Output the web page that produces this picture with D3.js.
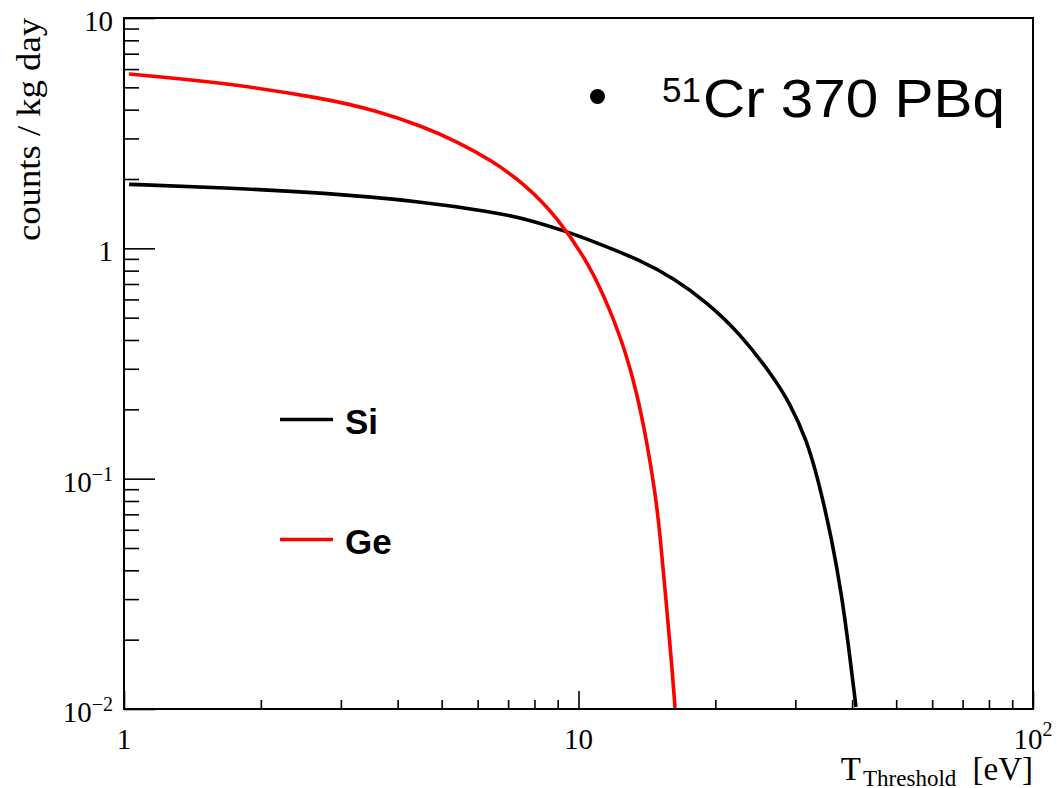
<!DOCTYPE html>
<html>
<head>
<meta charset="utf-8">
<script src="https://cdn.jsdelivr.net/npm/d3@7"></script>
<style>
  body { margin: 0; background: #fff; }
  svg { display: block; }
</style>
</head>
<body>
<svg id="chart" width="1057" height="788"></svg>
<script>
// ---- data ----
const siX = [1.026, 1.660, 2.754, 4.572, 6.410, 7.588, 9.449, 10.82, 13.65, 16.17, 19.15, 22.66, 26.83, 29.19, 31.78, 33.70, 36.13, 38.00, 39.30, 40.79];
const siY = [1.896, 1.833, 1.743, 1.593, 1.442, 1.350, 1.181, 1.068, 0.890, 0.743, 0.584, 0.4276, 0.277, 0.2123, 0.147, 0.0986, 0.0541, 0.0306, 0.0186, 0.0102];
const geX = [1.026, 1.660, 2.754, 3.549, 4.572, 5.412, 6.410, 7.588, 8.983, 10.64, 11.73, 12.66, 13.45, 14.15, 14.72, 15.11, 15.58, 16.06, 16.31];
const geY = [5.71, 5.24, 4.48, 3.99, 3.37, 2.90, 2.42, 1.915, 1.371, 0.832, 0.54, 0.362, 0.235, 0.143, 0.089, 0.058, 0.0297, 0.0152, 0.0101];
const seriesNames = ["Si", "Ge"];
const seriesColors = ["#000000", "#ff0000"];
const xMajorTicks = [1, 10, 100];
const xTickLabels = [["1", ""], ["10", ""], ["10", "2"]];
const yMajorTicks = [0.01, 0.1, 1, 10];
const yTickLabels = [["10", "\u22122"], ["10", "\u22121"], ["1", ""], ["10", ""]];
const xTitle = ["T", "Threshold", " [eV]"];
const yTitle = "counts / kg day";
const annotation = ["51", "Cr 370 PBq"];

// ---- layout ----
const L = 124, R = 1033, T = 18, B = 709;
const svg = d3.select("#chart");
svg.append("rect").attr("width", 1057).attr("height", 788).attr("fill", "#fff");

const x = d3.scaleLog().domain([1, 100]).range([L, R]);
const y = d3.scaleLog().domain([0.01, 10]).range([B, T]);

function minors(lo, hi) {
  const out = [];
  for (let d = lo; d < hi; d *= 10)
    for (let k = 2; k <= 9; k++) out.push(d * k);
  return out;
}

// clip
svg.append("defs").append("clipPath").attr("id", "clip")
  .append("rect").attr("x", L).attr("y", T).attr("width", R - L).attr("height", B - T);

// curves
const line = d3.line().x(d => x(d[0])).y(d => y(d[1])).curve(d3.curveBasis);
const seriesData = [d3.zip(siX, siY), d3.zip(geX, geY)];
const gCurves = svg.append("g").attr("clip-path", "url(#clip)");
seriesData.forEach((data, i) => {
  gCurves.append("path").datum(data)
    .attr("d", line)
    .attr("fill", "none")
    .attr("stroke", seriesColors[i])
    .attr("stroke-width", 3.6);
});

// axes ticks (inward)
const axisStyle = g => {
  g.select(".domain").remove();
  g.selectAll("line").attr("stroke", "#000").attr("stroke-width", 1.6);
  g.selectAll("text").remove();
};
svg.append("g").attr("transform", `translate(0,${B})`)
  .call(d3.axisBottom(x).tickValues(minors(1, 100)).tickSize(-9).tickFormat(""))
  .call(axisStyle);
svg.append("g").attr("transform", `translate(0,${B})`)
  .call(d3.axisBottom(x).tickValues(xMajorTicks).tickSize(-18).tickFormat(""))
  .call(axisStyle);
svg.append("g").attr("transform", `translate(${L},0)`)
  .call(d3.axisLeft(y).tickValues(minors(0.01, 10)).tickSize(-15).tickFormat(""))
  .call(axisStyle);
svg.append("g").attr("transform", `translate(${L},0)`)
  .call(d3.axisLeft(y).tickValues(yMajorTicks).tickSize(-31).tickFormat(""))
  .call(axisStyle);

// frame
svg.append("rect").attr("x", L).attr("y", T).attr("width", R - L).attr("height", B - T)
  .attr("fill", "none").attr("stroke", "#000").attr("stroke-width", 2);

const serif = "'Liberation Serif', 'DejaVu Serif', serif";
const sans = "'Liberation Sans', Arial, sans-serif";

// x tick labels
xMajorTicks.forEach((v, i) => {
  const t = svg.append("text").attr("x", x(v)).attr("y", 749)
    .attr("text-anchor", "middle").attr("font-family", serif).attr("font-size", 29)
    .text(xTickLabels[i][0]);
  if (xTickLabels[i][1]) t.append("tspan").attr("font-size", 20).attr("dy", -13).text(xTickLabels[i][1]);
});

// y tick labels
yMajorTicks.forEach((v, i) => {
  const t = svg.append("text").attr("x", 113).attr("y", y(v) + 13)
    .attr("text-anchor", "end").attr("font-family", serif).attr("font-size", 29)
    .text(yTickLabels[i][0]);
  if (yTickLabels[i][1]) t.append("tspan").attr("font-size", 20).attr("dy", -11).text(yTickLabels[i][1]);
});

// x title
const xt = svg.append("text").attr("x", 1033).attr("y", 780)
  .attr("text-anchor", "end").attr("font-family", serif).attr("font-size", 33);
xt.append("tspan").text(xTitle[0]);
xt.append("tspan").attr("font-size", 23).attr("dy", 6).attr("dx", 2).text(xTitle[1]);
xt.append("tspan").attr("dy", -6).attr("dx", 8).text(xTitle[2]);

// y title
svg.append("text")
  .attr("transform", "translate(40,18) rotate(-90)")
  .attr("text-anchor", "end").attr("font-family", serif).attr("font-size", 34)
  .attr("textLength", 223).attr("lengthAdjust", "spacingAndGlyphs")
  .text(yTitle);

// legend
const legY = [419.5, 539.5];
seriesNames.forEach((n, i) => {
  svg.append("line").attr("x1", 280).attr("x2", 333).attr("y1", legY[i]).attr("y2", legY[i])
    .attr("stroke", seriesColors[i]).attr("stroke-width", 3.6);
  svg.append("text").attr("x", 345).attr("y", legY[i] + 14.5)
    .attr("font-family", sans).attr("font-weight", "bold").attr("font-size", 35)
    .text(n);
});

// annotation
svg.append("circle").attr("cx", 597.5).attr("cy", 96.5).attr("r", 7.5).attr("fill", "#000");
svg.append("text").attr("x", 662).attr("y", 102)
  .attr("font-family", sans).attr("font-size", 35).text(annotation[0]);
svg.append("text").attr("x", 703).attr("y", 117)
  .attr("font-family", sans).attr("font-size", 53)
  .attr("textLength", 302).attr("lengthAdjust", "spacingAndGlyphs")
  .text(annotation[1]);
</script>
</body>
</html>
